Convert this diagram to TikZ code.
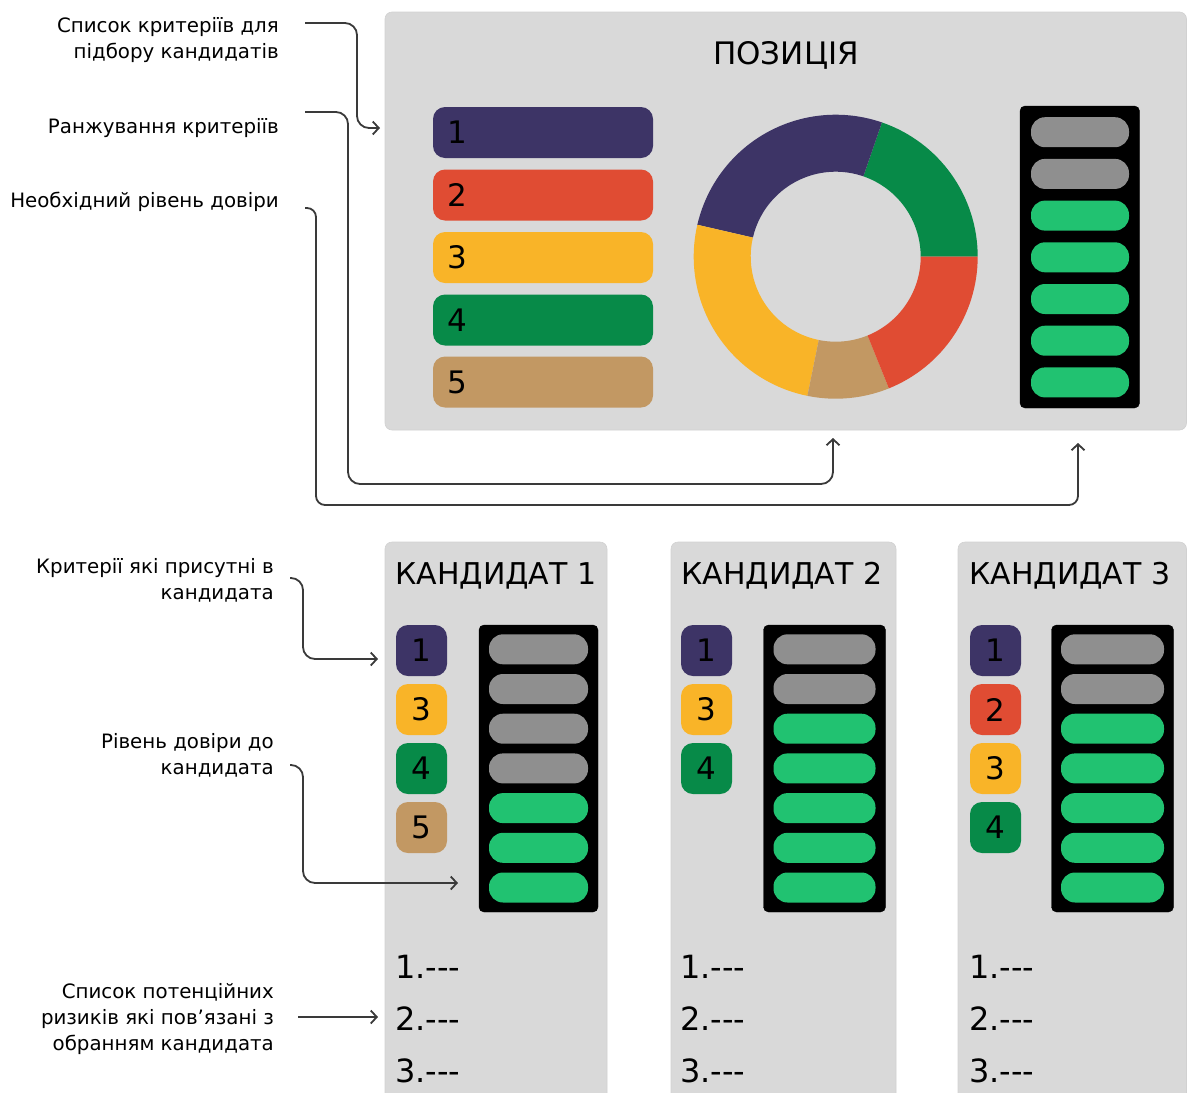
\documentclass[tikz,border=0pt]{standalone}
\usepackage{fontspec}
\setmainfont{DejaVu Sans}
\usetikzlibrary{arrows.meta}

\definecolor{panelgray}{HTML}{D9D9D9}
\definecolor{cpurple}{HTML}{3D3466}
\definecolor{cred}{HTML}{E04C33}
\definecolor{cyellow}{HTML}{F9B428}
\definecolor{cgreen}{HTML}{078A48}
\definecolor{ctan}{HTML}{C29863}
\definecolor{cbright}{HTML}{21C271}
\definecolor{cgrey}{HTML}{8F8F8F}
\definecolor{cline}{HTML}{3A3A3A}

\begin{document}
\begin{tikzpicture}[x=1pt,y=-1pt,
    panel/.style={fill=panelgray, draw=black!18, line width=0.6pt, rounded corners=7pt},
    critbar/.style={rounded corners=12pt, minimum width=220pt, minimum height=51pt,
      text width=192pt, inner xsep=14pt, align=left, font=\fontsize{31}{31}\selectfont},
    critbox/.style={rounded corners=12pt, minimum width=51pt, minimum height=51pt,
      inner sep=0pt, font=\fontsize{31}{31}\selectfont},
    meterbox/.style={fill=black, rounded corners=5pt},
    pill/.style={rounded corners=14pt, minimum height=30pt, inner sep=0pt},
    title/.style={inner sep=0pt, font=\fontsize{30}{30}\selectfont},
    risk/.style={inner sep=0pt, anchor=base west, font=\fontsize{32}{32}\selectfont},
    lbl/.style={inner sep=0pt, align=right, anchor=base east, font=\fontsize{19.8}{26}\selectfont},
    conn/.style={draw=cline, line width=1.8pt, rounded corners=12pt,
      -{Straight Barb[length=6pt,width=13pt,line width=1.8pt]}},
  ]
  \clip (0,0) rectangle (1187,1093);

  % position panel
  \draw[panel] (385,12) rectangle (1186.5,430);
  \node[title, anchor=base, font=\fontsize{31}{31}\selectfont] (pos) at (786,64) {ПОЗИЦІЯ};
  %
  \node[critbar, fill=cpurple] (pb1) at (543,132.5) {1};
  \node[critbar, fill=cred] (pb2) at (543,195) {2};
  \node[critbar, fill=cyellow] (pb3) at (543,257.5) {3};
  \node[critbar, fill=cgreen] (pb4) at (543,320) {4};
  \node[critbar, fill=ctan] (pb5) at (543,382) {5};
  %
  % donut (angles negative because y points down)
  \begin{scope}[shift={(835.7,256.7)}]
    \fill[cgreen]  (0:142) arc[start angle=0, end angle=-71, radius=142] -- (-71:85) arc[start angle=-71, end angle=0, radius=85] -- cycle;
    \fill[cpurple] (-71:142) arc[start angle=-71, end angle=-167, radius=142] -- (-167:85) arc[start angle=-167, end angle=-71, radius=85] -- cycle;
    \fill[cyellow] (-167:142) arc[start angle=-167, end angle=-258.5, radius=142] -- (-258.5:85) arc[start angle=-258.5, end angle=-167, radius=85] -- cycle;
    \fill[ctan]    (-258.5:142) arc[start angle=-258.5, end angle=-292, radius=142] -- (-292:85) arc[start angle=-292, end angle=-258.5, radius=85] -- cycle;
    \fill[cred]    (-292:142) arc[start angle=-292, end angle=-360, radius=142] -- (-360:85) arc[start angle=-360, end angle=-292, radius=85] -- cycle;
  \end{scope}
  %
  \draw[meterbox] (1020,106) rectangle (1139.5,408);
  \foreach \i/\c in {0/cgrey,1/cgrey,2/cbright,3/cbright,4/cbright,5/cbright,6/cbright}
    \node[pill, fill=\c, minimum width=98pt] (pm\i) at (1080,132.2+41.7*\i) {};

  % candidate panels
  \draw[panel] (385,542) rectangle (607,1110);
  \draw[panel] (671,542) rectangle (896,1110);
  \draw[panel] (958,542) rectangle (1186.5,1110);
  \node[title, anchor=base west] (cand1) at (395,584) {КАНДИДАТ 1};
  \node[title, anchor=base west] (cand2) at (681,584) {КАНДИДАТ 2};
  \node[title, anchor=base west] (cand3) at (969,584) {КАНДИДАТ 3};
  %
  \node[critbox, fill=cpurple] (ca1) at (421.5,650.5) {1};
  \node[critbox, fill=cyellow] (ca3) at (421.5,709.5) {3};
  \node[critbox, fill=cgreen] (ca4) at (421.5,768.5) {4};
  \node[critbox, fill=ctan] (ca5) at (421.5,827.5) {5};
  %
  \node[critbox, fill=cpurple] (cb1) at (706.5,650.5) {1};
  \node[critbox, fill=cyellow] (cb3) at (706.5,709.5) {3};
  \node[critbox, fill=cgreen] (cb4) at (706.5,768.5) {4};
  %
  \node[critbox, fill=cpurple] (cc1) at (995.5,650.5) {1};
  \node[critbox, fill=cred] (cc2) at (995.5,709.5) {2};
  \node[critbox, fill=cyellow] (cc3) at (995.5,768.5) {3};
  \node[critbox, fill=cgreen] (cc4) at (995.5,827.5) {4};
  %
  \draw[meterbox] (479,625) rectangle (598,912);
  \draw[meterbox] (763.5,625) rectangle (885.5,912);
  \draw[meterbox] (1051.5,625) rectangle (1173.5,912);
  \foreach \i/\c in {0/cgrey,1/cgrey,2/cgrey,3/cgrey,4/cbright,5/cbright,6/cbright}
    \node[pill, fill=\c, minimum width=99pt] (ma\i) at (538.5,649.3+39.7*\i) {};
  \foreach \i/\c in {0/cgrey,1/cgrey,2/cbright,3/cbright,4/cbright,5/cbright,6/cbright}
    \node[pill, fill=\c, minimum width=102pt] (mb\i) at (824.5,649.3+39.7*\i) {};
  \foreach \i/\c in {0/cgrey,1/cgrey,2/cbright,3/cbright,4/cbright,5/cbright,6/cbright}
    \node[pill, fill=\c, minimum width=103pt] (mc\i) at (1112.5,649.3+39.7*\i) {};
  %
  \foreach \k/\x in {a/395,b/680,c/969} {
    \node[risk] (r\k1) at (\x,978) {1.-{}-{}-};
    \node[risk] (r\k2) at (\x,1030) {2.-{}-{}-};
    \node[risk] (r\k3) at (\x,1082) {3.-{}-{}-};
  }

  % labels
  \node[lbl] (critlist) at (279,58) {Список критеріїв для\\підбору кандидатів};
  \node[lbl] (ranking) at (279,133) {Ранжування критеріїв};
  \node[lbl] (trust) at (279,207) {Необхідний рівень довіри};
  \node[lbl] (present) at (274,599) {Критерії які присутні в\\кандидата};
  \node[lbl] (level) at (274,774) {Рівень довіри до\\кандидата};
  \node[lbl] (risks) at (274,1050) {Список потенційних\\ризиків які пов’язані з\\обранням кандидата};

  % connectors
  \coordinate (critout) at (305,23);
  \coordinate (critin) at (380,128);
  \coordinate (rankout) at (305,112);
  \coordinate (donutin) at (833,438);
  \coordinate (trustout) at (305,208);
  \coordinate (meterin) at (1078,443);
  \coordinate (presout) at (290,578);
  \coordinate (presin) at (378,659);
  \coordinate (levelout) at (290,765);
  \coordinate (levelin) at (458,883);
  \coordinate (riskout) at (298,1017);
  \coordinate (riskin) at (378,1017);
  \draw[conn] (critout) -- (357,23) -- (357,128) -- (critin);
  \draw[conn] (rankout) -- (348,112) -- (348,484) -- (833,484) -- (donutin);
  \draw[conn, rounded corners=9pt] (trustout) -- (316,208) -- (316,505) -- (1078,505) -- (meterin);
  \draw[conn] (presout) -- (303,578) -- (303,659) -- (presin);
  \draw[conn] (levelout) -- (303,765) -- (303,883) -- (levelin);
  \draw[conn] (riskout) -- (riskin);
\end{tikzpicture}
\end{document}
